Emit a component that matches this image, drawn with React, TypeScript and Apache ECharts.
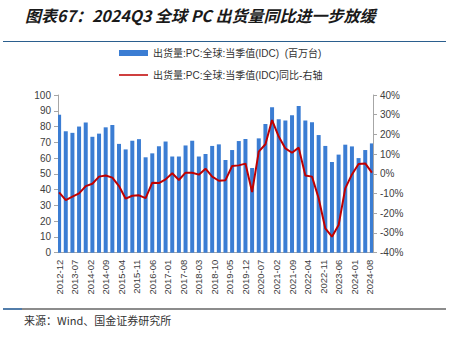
import React, { useEffect, useRef } from "react";
import * as echarts from "echarts";

const quarters: string[] = [
  "2012-12",
  "2013-03", "2013-06", "2013-09", "2013-12",
  "2014-03", "2014-06", "2014-09", "2014-12",
  "2015-03", "2015-06", "2015-09", "2015-12",
  "2016-03", "2016-06", "2016-09", "2016-12",
  "2017-03", "2017-06", "2017-09", "2017-12",
  "2018-03", "2018-06", "2018-09", "2018-12",
  "2019-03", "2019-06", "2019-09", "2019-12",
  "2020-03", "2020-06", "2020-09", "2020-12",
  "2021-03", "2021-06", "2021-09", "2021-12",
  "2022-03", "2022-06", "2022-09", "2022-12",
  "2023-03", "2023-06", "2023-09", "2023-12",
  "2024-03", "2024-06", "2024-09",
];

// 出货量:PC:全球:当季值(IDC) (百万台)
const shipments: number[] = [
  87.5,
  77, 76, 80, 82.5,
  73.5, 75.5, 79.5, 81,
  69, 65.5, 71, 72,
  60.5, 63, 67.5, 70.5,
  61, 61, 68, 71,
  61, 62.6, 67.7, 68.7,
  58.8, 65.1, 70.8, 72.1,
  53.7, 72.5, 81.6, 92.2,
  84.6, 83.9, 87.1, 93.0,
  83.9, 82.7, 74.6, 67.7,
  57.5, 62.2, 68.5, 67.4,
  60.0, 65.1, 69.3,
];

// 同比 (%)
const yoy: number[] = [
  -9.4,
  -13.3, -11.6, -9.9, -6.2,
  -5.0, -1.4, -0.8, -1.9,
  -6.2, -12.6, -11.1, -10.9,
  -12.3, -4.5, -4.7, -2.8,
  0.3, -3.1, 0.6, 0.6,
  -0.4, 2.6, -1.4, -3.5,
  -3.2, 4.0, 4.3, 5.2,
  -9.2, 11.3, 15.0, 27.3,
  18.9, 12.9, 10.7, 13.3,
  -0.8, -1.4, -12.4, -27.7,
  -31.9, -26.0, -7.4, -0.3,
  5.0, 5.3, 0.6,
];

const leftTicks = { min: 0, max: 100, interval: 10 };
const rightTicks = { min: -40, max: 40, interval: 10 };

const barName = "出货量:PC:全球:当季值(IDC)  (百万台)";
const lineName = "出货量:PC:全球:当季值(IDC)同比-右轴";

function buildMonths(first: string, last: string): string[] {
  const out: string[] = [];
  let [y, m] = first.split("-").map(Number);
  const [ly, lm] = last.split("-").map(Number);
  while (y < ly || (y === ly && m <= lm)) {
    out.push(`${y}-${String(m).padStart(2, "0")}`);
    m += 1;
    if (m > 12) {
      m = 1;
      y += 1;
    }
  }
  return out;
}

export default function App() {
  const ref = useRef<HTMLDivElement>(null);

  useEffect(() => {
    document.body.style.margin = "0";
    if (!ref.current) return;
    const chart = echarts.init(ref.current, undefined, { renderer: "svg" });

    const months = buildMonths(quarters[0], quarters[quarters.length - 1]);
    const barData = months.map((mo) => {
      const i = quarters.indexOf(mo);
      return i >= 0 ? shipments[i] : null;
    });
    const lineData = months.map((mo) => {
      const i = quarters.indexOf(mo);
      return i >= 0 ? yoy[i] : null;
    });

    const axisColor = "#a6a6a6";
    const labelColor = "#404040";
    const font = "Liberation Sans, Arial, Noto Sans CJK SC";

    chart.setOption({
      animation: false,
      backgroundColor: "#ffffff",
      grid: { left: 58, right: 86, top: 95, bottom: 84.3, containLabel: false },
      legend: {
        orient: "vertical",
        left: 114,
        top: 42,
        itemWidth: 29,
        itemHeight: 6,
        itemGap: 10,
        textStyle: { fontSize: 10, color: "#333", fontFamily: font, lineHeight: 12 },
        data: [
          { name: barName, icon: "rect" },
          {
            name: lineName,
            icon: "path://M0,0 L0.01,0 M0,2.2 L29,2.2 L29,3.8 L0,3.8 Z M29,6 L28.99,6",
          },
        ],
      },
      xAxis: {
        type: "category",
        data: months,
        boundaryGap: true,
        axisLine: { lineStyle: { color: axisColor } },
        axisTick: { interval: 6, length: 4, lineStyle: { color: axisColor } },
        axisLabel: {
          interval: 6,
          rotate: 90,
          margin: 7,
          fontSize: 9.5,
          color: labelColor,
          fontFamily: font,
        },
        splitLine: { show: false },
      },
      yAxis: [
        {
          type: "value",
          ...leftTicks,
          axisLine: { show: true, lineStyle: { color: axisColor } },
          axisTick: { show: true, length: 4, lineStyle: { color: axisColor } },
          axisLabel: { fontSize: 10, color: labelColor, fontFamily: font, margin: 7 },
          splitLine: { show: false },
        },
        {
          type: "value",
          ...rightTicks,
          position: "right",
          axisLine: { show: true, lineStyle: { color: axisColor } },
          axisTick: { show: true, length: 4, lineStyle: { color: axisColor } },
          axisLabel: {
            fontSize: 10,
            color: labelColor,
            fontFamily: font,
            margin: 7,
            formatter: "{value}%",
          },
          splitLine: { show: false },
        },
      ],
      series: [
        {
          name: barName,
          type: "bar",
          data: barData,
          yAxisIndex: 0,
          barWidth: 4,
          itemStyle: { color: "#3b7dd3" },
        },
        {
          name: lineName,
          type: "line",
          data: lineData,
          yAxisIndex: 1,
          connectNulls: true,
          symbol: "none",
          lineStyle: { color: "#c00000", width: 2 },
          itemStyle: { color: "#c00000" },
        },
      ],
      graphic: [
        {
          type: "text",
          left: 25,
          top: 7,
          style: {
            text: "图表67：2024Q3 全球 PC 出货量同比进一步放缓",
            fontSize: 16,
            fontStyle: "italic",
            fontWeight: "bold",
            fontFamily: "Noto Sans CJK SC",
            fill: "#1a1a1a",
          },
        },
        {
          type: "line",
          shape: { x1: 3, y1: 41.5, x2: 446, y2: 41.5 },
          style: { stroke: "#2b5f8e", lineWidth: 1.2 },
        },
        {
          type: "line",
          shape: { x1: 3, y1: 309, x2: 446, y2: 309 },
          style: { stroke: "#1a1a1a", lineWidth: 1.2 },
        },
        {
          type: "line",
          shape: { x1: 3, y1: 309, x2: 22, y2: 309 },
          style: { stroke: "#3a78b8", lineWidth: 1.4 },
        },
        {
          type: "text",
          left: 24,
          top: 314,
          style: {
            text: "来源：Wind、国金证券研究所",
            fontSize: 11,
            fontFamily: "Noto Sans CJK SC",
            fill: "#333",
          },
        },
      ],
    });

    return () => chart.dispose();
  }, []);

  return <div ref={ref} style={{ width: 459, height: 337 }} />;
}
